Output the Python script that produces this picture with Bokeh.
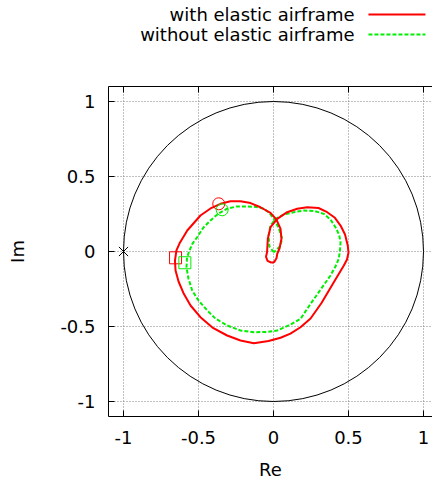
from bokeh.plotting import figure
from bokeh.models import Range1d, LinearAxis, FixedTicker
from bokeh.layouts import column
from bokeh.embed import file_html
from bokeh.resources import INLINE

# ---- data ----
tick_values = [-1, -0.5, 0, 0.5, 1]
tick_labels = ["-1", "-0.5", "0", "0.5", "1"]
series_names = ["with elastic airframe", "without elastic airframe"]
x_label = "Re"
y_label = "Im"

red_re = [-0.012, -0.040, -0.050, -0.043, -0.038, -0.020, 0.025, 0.091, 0.158, 0.225, 0.300,
          0.358, 0.407, 0.447, 0.477, 0.495, 0.500, 0.490, 0.469, 0.402, 0.320,
          0.247, 0.180, 0.113, 0.047, -0.033, -0.131, -0.220, -0.309, -0.407, -0.487,
          -0.553, -0.598, -0.633, -0.653, -0.657, -0.647, -0.627, -0.575, -0.487, -0.420,
          -0.353, -0.287, -0.220, -0.153, -0.087, -0.020, 0.020, 0.047, 0.053, 0.040,
          0.025, 0.020, 0.005, -0.012]
red_im = [-0.075, -0.063, -0.035, -0.005, 0.085, 0.162, 0.218, 0.262, 0.285, 0.295, 0.290,
          0.262, 0.227, 0.173, 0.113, 0.040, -0.007, -0.053, -0.093, -0.205, -0.343,
          -0.447, -0.505, -0.547, -0.575, -0.597, -0.611, -0.593, -0.560, -0.507, -0.438,
          -0.360, -0.282, -0.200, -0.127, -0.060, 0.007, 0.053, 0.140, 0.240, 0.287,
          0.318, 0.335, 0.335, 0.323, 0.295, 0.257, 0.213, 0.151, 0.085, 0.020,
          -0.015, -0.045, -0.070, -0.075]

green_re = [0.002, -0.027, -0.033, -0.020, 0.013, 0.069, 0.135, 0.202, 0.273, 0.335,
            0.380, 0.413, 0.437, 0.447, 0.443, 0.435, 0.413, 0.380, 0.302, 0.247,
            0.180, 0.113, 0.025, -0.053, -0.131, -0.220, -0.309, -0.387, -0.442, -0.500,
            -0.542, -0.567, -0.580, -0.577, -0.565, -0.540, -0.509, -0.467, -0.420, -0.367,
            -0.309, -0.247, -0.175, -0.113, -0.065, -0.027, 0.002, 0.033, 0.058, 0.043,
            0.002]
green_im = [-0.005, 0.033, 0.107, 0.173, 0.217, 0.247, 0.262, 0.273, 0.270, 0.251,
            0.213, 0.162, 0.113, 0.062, 0.007, -0.049, -0.100, -0.160, -0.271, -0.349,
            -0.449, -0.487, -0.527, -0.537, -0.538, -0.527, -0.493, -0.447, -0.393, -0.327,
            -0.260, -0.180, -0.105, -0.047, -0.005, 0.053, 0.095, 0.160, 0.207, 0.253,
            0.285, 0.300, 0.300, 0.297, 0.285, 0.257, 0.218, 0.162, 0.085, 0.033,
            -0.005]

red_circle_re = [-0.365]
red_circle_im = [0.318]
red_square_re = [-0.653]
red_square_im = [-0.042]
green_circle_re = [-0.342]
green_circle_im = [0.278]
green_square_re = [-0.591]
green_square_im = [-0.075]

critical_re = [-1.0]
critical_im = [0.0]
unit_radius = [1.0]

FONT = "DejaVu Sans"
FS = "18px"
RED = "#ff0000"
GREEN = "#00ee00"

x_range = Range1d(-1.1, 1.06)

# ---------------- legend strip (text left, sample line right) ----------------
LEG_H = 80
leg = figure(width=432, height=LEG_H, x_range=x_range, y_range=Range1d(LEG_H, 0),
             output_backend="svg", toolbar_location=None,
             min_border_left=108, min_border_right=0,
             min_border_top=0, min_border_bottom=0)
leg.axis.visible = False
leg.grid.visible = False
leg.outline_line_color = None
leg_text_x = [0.54, 0.54]
leg_line_x0 = [0.633, 0.633]
leg_line_x1 = [1.013, 1.013]
leg_y = [14, 34]
leg.text(x=leg_text_x, y=leg_y, text=series_names, text_align="right",
         text_baseline="middle", text_font={"value": FONT},
         text_font_size={"value": FS}, text_color="black")
leg.segment(x0=leg_line_x0[:1], y0=leg_y[:1], x1=leg_line_x1[:1], y1=leg_y[:1],
            line_color=RED, line_width=2)
leg.segment(x0=leg_line_x0[1:], y0=leg_y[1:], x1=leg_line_x1[1:], y1=leg_y[1:],
            line_color=GREEN, line_width=2, line_dash="4 2")

# ---------------- main plot ----------------
p = figure(width=432, height=482 - LEG_H,
           x_range=x_range, y_range=Range1d(-1.1, 1.1),
           output_backend="svg", toolbar_location=None,
           min_border_left=108, min_border_right=0,
           min_border_top=86 - LEG_H, min_border_bottom=66)
p.outline_line_color = None

bottom_axis = p.xaxis[0]
left_axis = p.yaxis[0]
top_axis = LinearAxis()
p.add_layout(top_axis, "above")

for ax in [bottom_axis, left_axis, top_axis]:
    ax.ticker = FixedTicker(ticks=tick_values)
    ax.major_label_overrides = dict(zip(tick_values, tick_labels))
    ax.major_tick_in = 6
    ax.major_tick_out = 0
    ax.minor_tick_in = 0
    ax.minor_tick_out = 0
    ax.axis_line_color = "black"
    ax.axis_line_width = 1
    ax.major_tick_line_color = "black"
    ax.major_label_text_font = FONT
    ax.major_label_text_font_size = FS
    ax.major_label_text_color = "black"
    ax.axis_label_text_font = FONT
    ax.axis_label_text_font_size = FS
    ax.axis_label_text_font_style = "normal"
    ax.axis_label_text_color = "black"

top_axis.major_label_text_font_size = "0px"
top_axis.major_label_text_color = None
top_axis.major_label_standoff = 0

bottom_axis.axis_label = x_label
bottom_axis.major_label_standoff = 14
bottom_axis.axis_label_standoff = 12
left_axis.axis_label = y_label
left_axis.major_label_standoff = 13
left_axis.axis_label_standoff = 29

for g in [p.xgrid[0], p.ygrid[0]]:
    g.ticker = FixedTicker(ticks=tick_values)
    g.grid_line_color = "#808080"
    g.grid_line_dash = "1 2"
    g.grid_line_width = 1

# unit circle
p.circle(x=[0.0], y=[0.0], radius=unit_radius, fill_color=None,
         line_color="black", line_width=1)
# critical point
p.scatter(x=critical_re, y=critical_im, marker="x", size=13,
          line_color="black", line_width=1)

# curves
p.line(green_re, green_im, line_color=GREEN, line_width=2, line_dash="4 2")
p.line(red_re, red_im, line_color=RED, line_width=2)

# markers
p.scatter(red_circle_re, red_circle_im, marker="circle", size=12,
          fill_color=None, line_color=RED, line_width=1)
p.scatter(red_square_re, red_square_im, marker="square", size=12,
          fill_color=None, line_color=RED, line_width=1)
p.scatter(green_circle_re, green_circle_im, marker="circle", size=12,
          fill_color=None, line_color=GREEN, line_width=1)
p.scatter(green_square_re, green_square_im, marker="square", size=12,
          fill_color=None, line_color=GREEN, line_width=1)

layout = column(leg, p, spacing=0)
open("out.html", "w").write(file_html(layout, INLINE))
